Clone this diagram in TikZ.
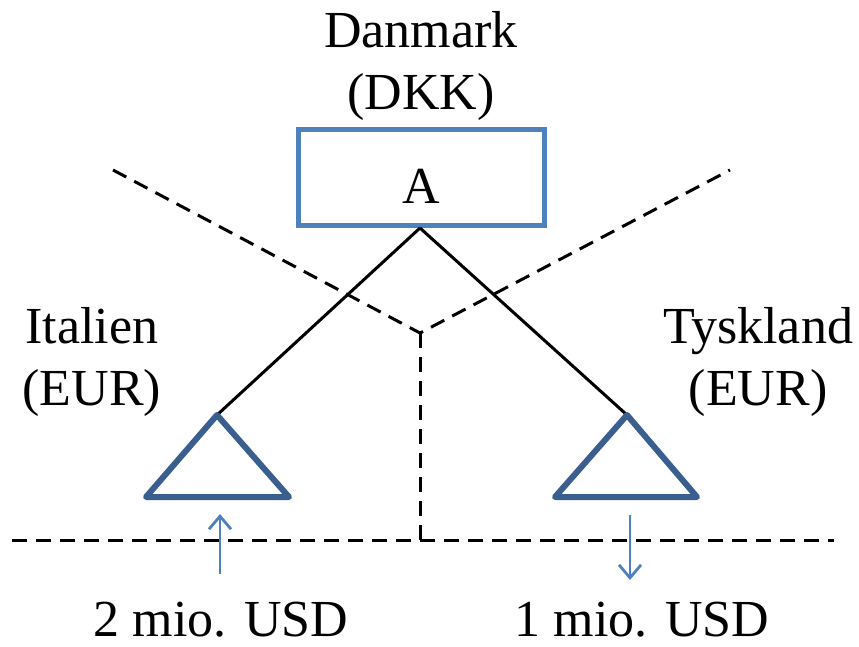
\documentclass[tikz,border=0pt]{standalone}
\usepackage{fontspec}
\setmainfont{Liberation Serif}
\usetikzlibrary{arrows.meta}
\definecolor{boxblue}{HTML}{4F81BD}
\definecolor{triblue}{HTML}{3A5F8F}
\tikzset{
  lbl/.style={font=\fontsize{52}{62}\selectfont, align=center, inner sep=0pt},
  btm/.style={font=\fontsize{52}{62}\selectfont, inner sep=0pt, anchor=base},
  dsh/.style={black, line width=3pt, dash pattern=on 15pt off 9pt},
  solidline/.style={black, line width=3pt},
  tri/.style={triblue, line width=6pt, line join=round, line cap=round},
  flow/.style={boxblue, line width=2.8pt, -{Straight Barb[length=13pt,width=22pt,line width=2.8pt]}},
}
\begin{document}
\begin{tikzpicture}[x=1pt,y=-1pt]
\useasboundingbox (0,0) rectangle (859,646);
% box
\node[draw=boxblue, line width=5pt, minimum width=246pt, minimum height=96pt, inner sep=0pt] (A) at (421,177) {};
\node[lbl] (Atext) at (421,186) {A};
\node[lbl] (dk) at (421,66) {Danmark\\(DKK)};
% coordinates
\coordinate (top) at (420,228);
\coordinate (lt) at (217,415);
\coordinate (rt) at (627,415);
\coordinate (c) at (420,333);
\coordinate (dl) at (113,170);
\coordinate (dr) at (730,170);
\coordinate (cb) at (420,540);
\coordinate (hl) at (12,540);
\coordinate (hr) at (834,540);
% dashed
\draw[dsh] (dl) -- (c) -- (dr);
\draw[dsh] (c) -- (cb);
\draw[dsh] (hl) -- (hr);
% solid
\draw[solidline] (top) -- (lt);
\draw[solidline] (top) -- (rt);
% triangles
\draw[tri] (lt) -- (146,497) -- (289,497) -- cycle;
\draw[tri] (rt) -- (555,497) -- (697,497) -- cycle;
% labels
\node[lbl] (it) at (92,362) {Italien\\(EUR)};
\node[lbl] (ty) at (758,362) {Tyskland\\(EUR)};
\node[btm] (l1) at (221,636) {2 mio. USD};
\node[btm] (l2) at (642,636) {1 mio. USD};
% arrows
\coordinate (a1s) at (220,574);
\coordinate (a1e) at (220,514);
\coordinate (a2s) at (630,515);
\coordinate (a2e) at (630,580);
\draw[flow] (a1s) -- (a1e);
\draw[flow] (a2s) -- (a2e);
\end{tikzpicture}
\end{document}
